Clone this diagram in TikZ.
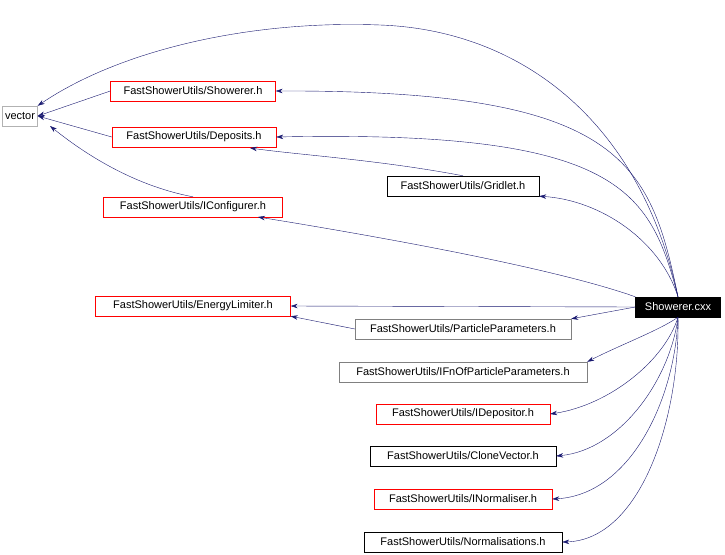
\documentclass[tikz,border=0pt]{standalone}
\usepackage{fontspec}
\setmainfont{Liberation Sans}
\usetikzlibrary{arrows.meta,positioning}
\definecolor{edgeblue}{RGB}{25,25,112}

\begin{document}
\begin{tikzpicture}[
    x=1pt, y=-1pt,
    box/.style={rectangle, draw, inner sep=0pt, minimum height=20pt, font=\fontsize{11}{12}\selectfont},
    redbox/.style={box, draw=red},
    edge/.style={draw=edgeblue, -{Stealth[length=7pt,width=4.5pt]}}
]
    \useasboundingbox (0,0) rectangle (725,554);

    % Headers
    \node[box, draw=gray!60, minimum width=35pt] (vec) at (20,116) {vector};
    \node[redbox, minimum width=165pt] (shh) at (193,91) {FastShowerUtils/Showerer.h};
    \node[redbox, minimum width=164pt] (dep) at (194,137) {FastShowerUtils/Deposits.h};
    \node[box, minimum width=152pt] (grd) at (463,186) {FastShowerUtils/Gridlet.h};
    \node[redbox, minimum width=179pt] (icf) at (193,207) {FastShowerUtils/IConfigurer.h};
    \node[redbox, minimum width=195pt] (enl) at (193,306) {FastShowerUtils/EnergyLimiter.h};
    \node[box, draw=gray, minimum width=216pt] (ppa) at (463,329) {FastShowerUtils/ParticleParameters.h};
    \node[box, draw=gray, minimum width=248pt] (ifn) at (463,372) {FastShowerUtils/IFnOfParticleParameters.h};
    \node[redbox, minimum width=174pt] (ide) at (463,414) {FastShowerUtils/IDepositor.h};
    \node[box, minimum width=186pt] (clv) at (463,456) {FastShowerUtils/CloneVector.h};
    \node[redbox, minimum width=178pt] (inm) at (463,499) {FastShowerUtils/INormaliser.h};
    \node[box, minimum width=198pt] (nrm) at (463,542) {FastShowerUtils/Normalisations.h};

    % Source file
    \node[box, fill=black, text=white, minimum width=85pt] (cxx) at (678,307) {Showerer.cxx};

    % Connections
    \path[edge] (cxx.north) .. controls (640,120) and (520,30) .. (380,25)
        .. controls (250,20) and (120,50) .. (vec.north east);
    \path[edge] (cxx.north) .. controls (650,160) and (620,90) .. (shh.east);
    \path[edge] (cxx.north) .. controls (650,190) and (620,130) .. (dep.east);
    \path[edge] (cxx.north) .. controls (660,240) and (600,200) .. (grd.south east);
    \path[edge] (cxx.north west) .. controls (560,270) and (400,240) .. (258,217);
    \path[edge] (cxx.west) -- (enl.east);
    \path[edge] (cxx.west) -- (ppa.north east);
    \path[edge] (cxx.south) .. controls (660,330) and (620,345) .. (ifn.north east);
    \path[edge] (cxx.south) .. controls (665,360) and (610,405) .. (ide.east);
    \path[edge] (cxx.south) .. controls (670,380) and (620,450) .. (clv.east);
    \path[edge] (cxx.south) .. controls (675,400) and (630,495) .. (inm.east);
    \path[edge] (cxx.south) .. controls (680,420) and (640,540) .. (nrm.east);
    \path[edge] (shh.west) -- (vec.east);
    \path[edge] (dep.west) -- (vec.east);
    \path[edge] (icf.north) .. controls (130,185) and (80,150) .. (50,126);
    \path[edge] (grd.north) .. controls (380,160) and (300,155) .. (250,148);
    \path[edge] (ppa.west) -- (enl.south east);
\end{tikzpicture}
\end{document}
